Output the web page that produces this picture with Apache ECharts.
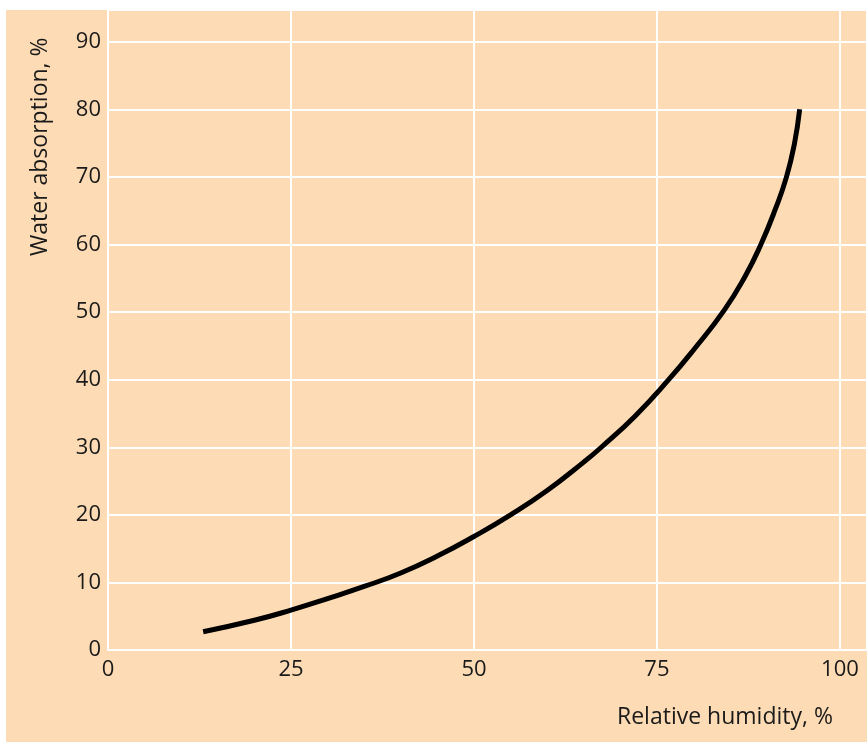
<!DOCTYPE html>
<html>
<head>
<meta charset="utf-8">
<script src="https://cdn.jsdelivr.net/npm/echarts@6/dist/echarts.min.js"></script>
<style>
html,body{margin:0;padding:0;background:#fff;}
#chart{width:867px;height:743px;}
</style>
</head>
<body>
<div id="chart"></div>
<script>
var humidity = [13, 20, 25, 30, 35, 40, 45, 50, 55, 60, 65, 67.4, 72, 76.6, 80, 84.2, 87, 89.2, 91.2, 92.7, 93.8, 94.5];
var absorption = [2.7, 4.4, 5.9, 7.6, 9.4, 11.4, 13.9, 16.8, 20, 23.6, 27.8, 30, 34.6, 40, 44.4, 50.3, 55.2, 60, 65.3, 70, 75, 80];
var xTicks = [0, 25, 50, 75, 100];
var yTicks = [0, 10, 20, 30, 40, 50, 60, 70, 80, 90];
var xTitle = 'Relative humidity, %';
var yTitle = 'Water absorption, %';

var FONT = '"Open Sans", "Noto Sans", sans-serif';
var chart = echarts.init(document.getElementById('chart'));
var data = humidity.map(function (h, i) { return [h, absorption[i]]; });
chart.setOption({
  animation: false,
  backgroundColor: '#ffffff',
  graphic: [
    { type: 'rect', z: -10, silent: true, shape: { x: 6, y: 10, width: 861, height: 732 }, style: { fill: '#FDDBB4' } },
    { type: 'text', left: 617, top: 706, style: { text: xTitle, font: '23px ' + FONT, fill: '#1a1a1a' } },
    { type: 'text', rotation: Math.PI / 2, x: 29, y: 256, style: { text: yTitle, font: '23px ' + FONT, fill: '#1a1a1a' } }
  ],
  grid: { left: 108, right: 0, top: 10, bottom: 93, containLabel: false },
  xAxis: {
    type: 'value', min: 0, max: 103.7, interval: 25,
    axisLine: { show: true, lineStyle: { color: '#ffffff', width: 2 } },
    axisTick: { show: false },
    axisLabel: { margin: 9, color: '#1a1a1a', fontSize: 22, fontFamily: FONT, showMaxLabel: false,
      formatter: function (v) { return xTicks.indexOf(v) >= 0 ? String(v) : ''; } },
    splitLine: { show: true, lineStyle: { color: '#ffffff', width: 2 } }
  },
  yAxis: {
    type: 'value', min: 0, max: 94.7, interval: 10,
    axisLine: { show: true, lineStyle: { color: '#ffffff', width: 2 } },
    axisTick: { show: false },
    axisLabel: { margin: 7, color: '#1a1a1a', fontSize: 22, fontFamily: FONT, showMaxLabel: false,
      formatter: function (v) { return yTicks.indexOf(v) >= 0 ? String(v) : ''; } },
    splitLine: { show: true, lineStyle: { color: '#ffffff', width: 2 } }
  },
  series: [{
    type: 'line', data: data, smooth: 0.5, showSymbol: false,
    lineStyle: { color: '#000000', width: 5, cap: 'butt' }
  }]
});
</script>
</body>
</html>
